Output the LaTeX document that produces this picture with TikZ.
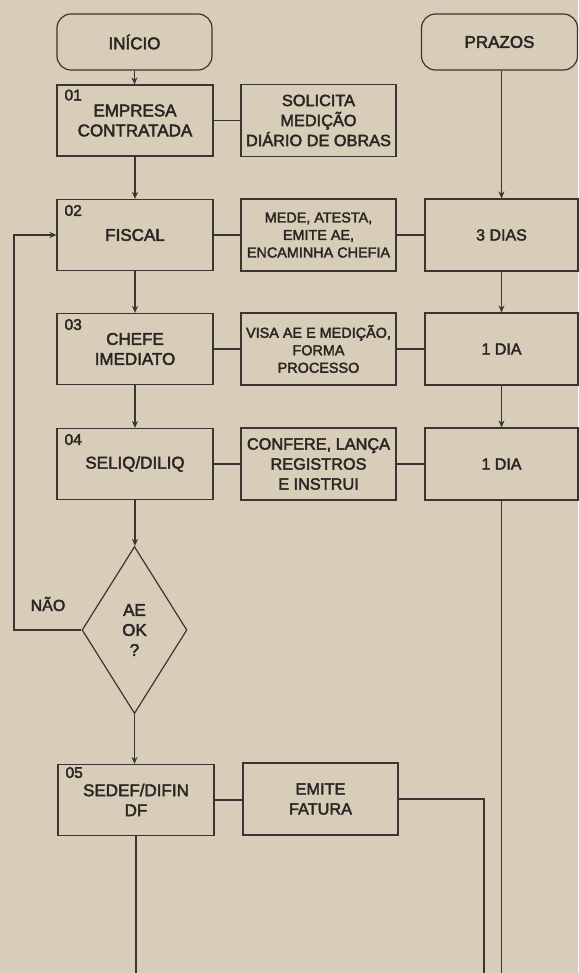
\documentclass[tikz,border=0pt]{standalone}
\usepackage{fontspec}
\setmainfont{Liberation Sans}[FakeBold=2.5]
\usetikzlibrary{shapes.geometric,arrows.meta}
\definecolor{paper}{HTML}{D7CDB8}
\definecolor{ink}{HTML}{3A3531}
\definecolor{txt}{HTML}{2A2623}
\tikzset{
  base/.style={draw=ink, line width=1.2pt, inner sep=0pt, text=txt, align=center},
  mainbox/.style={base, minimum width=156pt, minimum height=71pt, font=\fontsize{17}{20}\selectfont},
  sidebox/.style={base, minimum width=155pt, minimum height=72pt, font=\fontsize{16.3}{20}\selectfont},
  smallside/.style={sidebox, font=\fontsize{14.4}{17.5}\selectfont},
  daybox/.style={base, minimum width=153pt, minimum height=72pt, font=\fontsize{16}{20}\selectfont},
  termbox/.style={base, rounded corners=14pt, minimum height=56pt, font=\fontsize{17}{20}\selectfont},
  decision/.style={base, shape=diamond, minimum width=105pt, minimum height=167pt, font=\fontsize{17}{20}\selectfont},
  numlabel/.style={anchor=base west, inner sep=0pt, text=txt, font=\fontsize{15.5}{15.5}\selectfont},
  conn/.style={draw=ink, line width=1.2pt},
  arr/.style={conn, -{Stealth[length=7pt, width=6pt]}},
}
\begin{document}
\begin{tikzpicture}[x=1pt, y=-1pt]
\fill[paper] (0,0) rectangle (578,973);
\useasboundingbox (0,0) rectangle (578,973);

% top terminals
\node[termbox, minimum width=155pt] (inicio) at (134.5,42) {INÍCIO};
\node[termbox, minimum width=156pt] (prazos) at (499.5,42) {PRAZOS};

% row 01
\node[mainbox] (b01) at (135,120.5) {EMPRESA\\CONTRATADA};
\node[sidebox] (sol) at (318.5,120.5) {SOLICITA\\MEDIÇÃO\\DIÁRIO DE OBRAS};

% row 02
\node[mainbox] (b02) at (135,235) {FISCAL};
\node[smallside] (mede) at (318.5,235) {MEDE, ATESTA,\\EMITE AE,\\ENCAMINHA CHEFIA};
\node[daybox] (d3) at (501.5,235) {3 DIAS};

% row 03
\node[mainbox] (b03) at (135,349) {CHEFE\\IMEDIATO};
\node[smallside] (visa) at (318.5,349) {VISA AE E MEDIÇÃO,\\FORMA\\PROCESSO};
\node[daybox] (d1a) at (501.5,349) {1 DIA};

% row 04
\node[mainbox] (b04) at (135,464) {SELIQ/DILIQ};
\node[sidebox] (conf) at (318.5,464) {CONFERE, LANÇA\\REGISTROS\\E INSTRUI};
\node[daybox] (d1b) at (501.5,464) {1 DIA};

% decision
\node[decision] (dec) at (134.5,630) {AE\\OK\\?};
\node[inner sep=0pt, text=txt, font=\fontsize{16}{20}\selectfont] (nao) at (48,604) {NÃO};

% row 05
\node[mainbox] (b05) at (136,800) {SEDEF/DIFIN\\DF};
\node[sidebox] (emite) at (320.5,799) {EMITE\\FATURA};

% number labels
\node[numlabel] (n01) at ([xshift=8pt, yshift=-16pt]b01.north west) {01};
\node[numlabel] (n02) at ([xshift=8pt, yshift=-17pt]b02.north west) {02};
\node[numlabel] (n03) at ([xshift=8pt, yshift=-17pt]b03.north west) {03};
\node[numlabel] (n04) at ([xshift=8pt, yshift=-17pt]b04.north west) {04};
\node[numlabel] (n05) at ([xshift=8pt, yshift=-14pt]b05.north west) {05};

% free ends at the bottom
\coordinate (endA) at (b05.south |- 0,973);
\coordinate (endB) at (484,973);
\coordinate (endC) at (d1b.south |- 0,973);
\coordinate (loopx) at (14,0);

% vertical flow
\draw[arr] (inicio.south) -- (b01.north -| inicio.south);
\draw[arr] (b01.south) -- (b02.north);
\draw[arr] (b02.south) -- (b03.north);
\draw[arr] (b03.south) -- (b04.north);
\draw[arr] (b04.south) -- (dec.north -| b04.south);
\draw[arr] (dec.south) -- (b05.north -| dec.south);
\draw[conn] (b05.south) -- (endA);

% prazos column
\draw[arr] (prazos.south -| d3.north) -- (d3.north);
\draw[arr] (d3.south) -- (d1a.north);
\draw[arr] (d1a.south) -- (d1b.north);
\draw[conn] (d1b.south) -- (endC);

% horizontal links
\draw[conn] (b01.east) -- (sol.west);
\draw[conn] (b02.east) -- (mede.west);
\draw[conn] (mede.east) -- (d3.west);
\draw[conn] (b03.east) -- (visa.west);
\draw[conn] (visa.east) -- (d1a.west);
\draw[conn] (b04.east) -- (conf.west);
\draw[conn] (conf.east) -- (d1b.west);
\draw[conn] (b05.east) -- (b05.east -| emite.west);
\draw[conn] (emite.east) -- (emite.east -| endB) -- (endB);

% feedback loop
\draw[arr] (dec.west) -- (dec.west -| loopx) |- (b02.west);
\end{tikzpicture}
\end{document}
